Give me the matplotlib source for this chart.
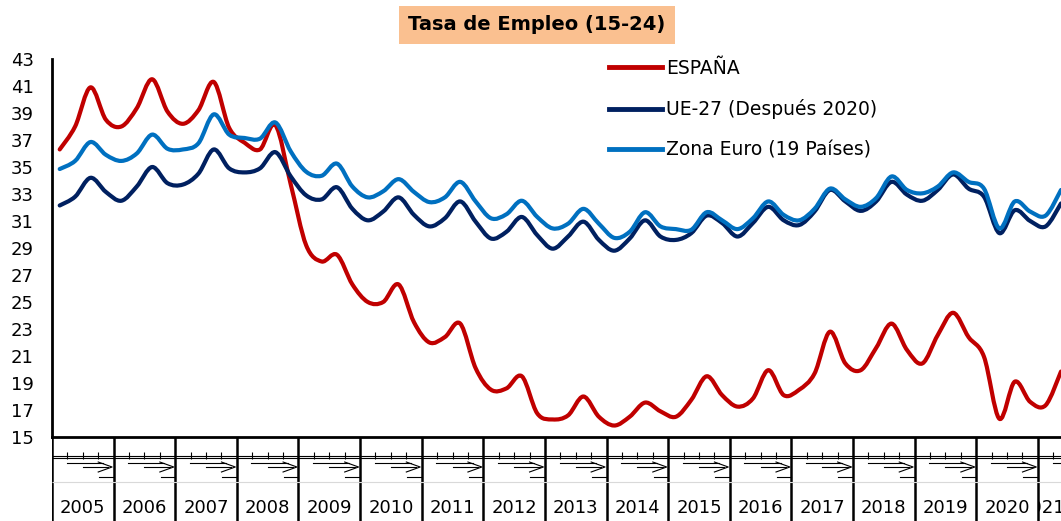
import numpy as np
import matplotlib.pyplot as plt
from matplotlib.path import Path
from matplotlib.patches import PathPatch, Rectangle
from matplotlib.lines import Line2D

plt.rcParams['font.family'] = ['DejaVu Sans']

# datos trimestrales 2005T1 - 2021T2
years = list(range(2005, 2022))
labels = ['ESPAÑA', 'UE-27 (Después 2020)', 'Zona Euro (19 Países)']
colors = ['#C00000', '#002060', '#0070C0']

espana = [36.3, 38.0, 40.9, 38.5,
          38.0, 39.35, 41.5, 39.1,
          38.2, 39.2, 41.3, 37.9,
          36.8, 36.3, 38.1, 33.7,
          29.2, 28.0, 28.5, 26.3,
          25.0, 25.0, 26.3, 23.5,
          22.0, 22.4, 23.4, 20.1,
          18.5, 18.6, 19.5, 16.75,
          16.3, 16.6, 18.0, 16.5,
          15.85, 16.5, 17.55, 16.9,
          16.5, 17.75, 19.5, 18.1,
          17.25, 17.85, 19.95, 18.1,
          18.5, 19.7, 22.8, 20.45,
          19.95, 21.6, 23.4, 21.45,
          20.45, 22.55, 24.2, 22.4,
          20.95, 16.35, 19.1, 17.6,
          17.35, 19.85]

ue27 = [32.15, 32.8, 34.2, 33.15,
        32.5, 33.55, 35.0, 33.8,
        33.7, 34.5, 36.3, 34.9,
        34.6, 34.9, 36.1, 34.3,
        32.9, 32.6, 33.5, 31.9,
        31.05, 31.7, 32.75, 31.45,
        30.6, 31.2, 32.45, 30.95,
        29.7, 30.2, 31.3, 29.95,
        28.95, 29.85, 30.95, 29.6,
        28.8, 29.7, 31.05, 29.85,
        29.6, 30.1, 31.4, 30.85,
        29.85, 30.85, 32.05, 31.05,
        30.7, 31.7, 33.3, 32.45,
        31.75, 32.45, 33.9, 32.95,
        32.5, 33.3, 34.45, 33.4,
        32.8, 30.1, 31.8, 31.0,
        30.6, 32.3]

zona_euro = [34.85, 35.45, 36.85, 35.9,
             35.45, 36.0, 37.4, 36.35,
             36.3, 36.75, 38.9, 37.4,
             37.15, 37.1, 38.3, 36.15,
             34.65, 34.35, 35.25, 33.55,
             32.75, 33.2, 34.1, 33.15,
             32.4, 32.75, 33.9, 32.45,
             31.2, 31.5, 32.5, 31.3,
             30.45, 30.8, 31.9, 30.8,
             29.75, 30.2, 31.65, 30.6,
             30.4, 30.35, 31.65, 31.05,
             30.4, 31.2, 32.45, 31.45,
             31.05, 31.9, 33.4, 32.6,
             32.05, 32.7, 34.3, 33.3,
             33.05, 33.55, 34.6, 33.9,
             33.4, 30.45, 32.45, 31.7,
             31.4, 33.3]

series = [espana, ue27, zona_euro]
n = len(espana)
x = np.arange(n) + 0.5


def smooth_path(xs, ys):
    # curva suavizada tipo Excel (bezier)
    p = np.column_stack([xs, ys])
    p = np.vstack([p[0], p, p[-1]])
    verts = [p[1]]
    codes = [Path.MOVETO]
    for i in range(1, len(p) - 2):
        c1 = p[i] + (p[i + 1] - p[i - 1]) / 6
        c2 = p[i + 1] - (p[i + 2] - p[i]) / 6
        verts += [c1, c2, p[i + 1]]
        codes += [Path.CURVE4] * 3
    return Path(verts, codes)


W, H = 1061, 521
fig = plt.figure(figsize=(W / 100, H / 100), dpi=100)
L, B, T = 52 / W, (H - 437) / H, (H - 59) / H
ax = fig.add_axes([L, B, 1 - L, T - B])
xmax = 65.5

for s, c in zip(series, colors):
    ax.add_patch(PathPatch(smooth_path(x, s), fill=False, edgecolor=c, lw=3,
                           capstyle='round', joinstyle='round'))

ax.set_xlim(0, xmax)
ax.set_ylim(15, 43)
ax.set_yticks(range(15, 44, 2))
ax.set_xticks([])
ax.tick_params(axis='y', length=0, pad=13, labelsize=13)
for sp in ['top', 'right']:
    ax.spines[sp].set_visible(False)
ax.spines['left'].set_linewidth(2)
ax.spines['bottom'].set_linewidth(2)

handles = [Line2D([], [], color=c, lw=3.5) for c in colors]
fig.legend(handles, labels, loc='upper left', bbox_to_anchor=(609 / W, 1 - 59 / H),
           frameon=False, fontsize=13.5, handlelength=2.8, handletextpad=0.25,
           labelspacing=1.13, borderpad=0, borderaxespad=0)

fig.text(537 / W, 1 - 25 / H, 'Tasa de Empleo (15-24)', ha='center', va='center',
         fontsize=14, fontweight='bold',
         bbox=dict(facecolor='#FAC090', edgecolor='none', boxstyle='square,pad=0.5'))

# eje de categorias (trimestres / años)
ax2 = fig.add_axes([L, 0, 1 - L, B])
ax2.set_xlim(0, xmax)
ax2.set_ylim(0, 84)
ax2.axis('off')

starts = [4 * k for k in range(len(years))]
ax2.vlines(starts, 0, 84, color='black', lw=1.8)
ax2.hlines([65, 62.7], 0, xmax, color='black', lw=0.8)
ax2.hlines(39, 0, xmax, color='#d9d9d9', lw=0.8)
qb = [s + q for s in starts for q in (1, 2, 3)]
ax2.vlines(qb, 62.5, 69.5, color='black', lw=0.8)
for s in starts:
    ax2.plot([s + 0.95, s + 3.3], [58, 58], color='black', lw=0.8)
    ax2.plot([s + 2.0, s + 3.65], [54, 54], color='black', lw=0.8)
    ax2.plot([s + 3.0, s + 3.9, s + 3.0], [59, 54, 49], color='black', lw=0.8)
    ax2.plot([s + 3.05, s + 3.95], [44, 44], color='black', lw=0.8)

for s, yr in zip(starts, years):
    end = min(s + 4, n)
    if end - s == 4:
        ax2.text(s + 2, 13, str(yr), ha='center', va='center', fontsize=13)
    else:
        # el último año está cortado en el borde, como en el original
        t = ax2.text(xmax + 0.3, 13, str(yr), ha='right', va='center', fontsize=13)
        t.set_clip_on(True)
        t.set_clip_path(Rectangle((s + 0.1, 0), 4, 84, transform=ax2.transData))

fig.savefig('out.png', dpi=100)
